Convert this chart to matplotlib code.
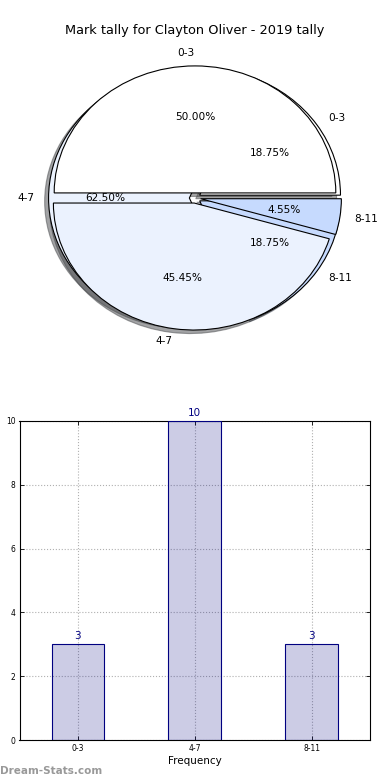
import matplotlib
matplotlib.use("Agg")
import matplotlib.pyplot as plt

title = "Mark tally for Clayton Oliver - 2019 tally"
categories = ["0-3", "4-7", "8-11"]
counts = [3, 10, 3]              # outer pie / bar values
counts_b = [11, 10, 1]           # second pie values (50.00%, 45.45%, 4.55%)
pie_colors = ["#FFFFFF", "#EBF2FE", "#C6DAFE"]
yticks = [0, 2, 4, 6, 8, 10]

fig = plt.figure(figsize=(3.9, 7.8), dpi=100)
fig.text(0.5, 1 - 30.5 / 780, title, ha="center", va="center", fontsize=9.3)

# Pie axes
axp = fig.add_axes([19 / 390, 1 - 356.75 / 780, 352 / 390, 317.5 / 780])
wp = {"edgecolor": "black", "linewidth": 0.8}
axp.pie(counts, labels=categories, colors=pie_colors, explode=[0.04] * 3,
        autopct="%1.2f%%", shadow=True, startangle=0, counterclock=True,
        wedgeprops=wp, textprops={"fontsize": 7.6})
axp.pie(counts_b, labels=categories, colors=pie_colors, explode=[0.04] * 3,
        autopct="%1.2f%%", shadow=True, startangle=0, counterclock=True,
        wedgeprops=wp, textprops={"fontsize": 7.6})
axp.set_aspect("auto")
axp.set_xlim(-1.25, 1.25)
axp.set_ylim(-1.25, 1.25)
axp.axis("off")

# Bar axes
axb = fig.add_axes([19.5 / 390, 1 - 740 / 780, 350.5 / 390, 319 / 780])
x = list(range(len(categories)))
axb.bar(x, counts, width=0.45, color="navy", alpha=0.2, zorder=2)
axb.bar(x, counts, width=0.45, facecolor="none", edgecolor="navy",
        linewidth=0.8, zorder=3)
for xi, c in zip(x, counts):
    axb.text(xi, c + 0.1, str(c), ha="center", va="bottom", color="navy",
             fontsize=7.5)
axb.set_xlim(-0.5, 2.5)
axb.set_ylim(0, 10)
axb.set_xticks(x)
axb.set_xticklabels(categories, fontsize=5.5)
axb.set_yticks(yticks)
axb.set_yticklabels([str(t) for t in yticks], fontsize=5.5)
axb.tick_params(direction="in", length=3, width=0.6, pad=3, top=True, right=True)
axb.grid(True, linestyle=":", color="#b0b0b0", linewidth=0.8, zorder=0)
axb.set_axisbelow(True)
for s in axb.spines.values():
    s.set_linewidth(0.8)
axb.set_xlabel("Frequency", fontsize=7.5, labelpad=2)

fig.text(-4 / 390, 1 - 580 / 780, "Distinct Marks", rotation=90, ha="center",
         va="center", fontsize=7)
fig.text(0, 1 - 771 / 780, "Dream-Stats.com", ha="left", va="center",
         fontsize=7.5, color="#999999", fontweight="bold")

fig.savefig("out.png", dpi=100)
